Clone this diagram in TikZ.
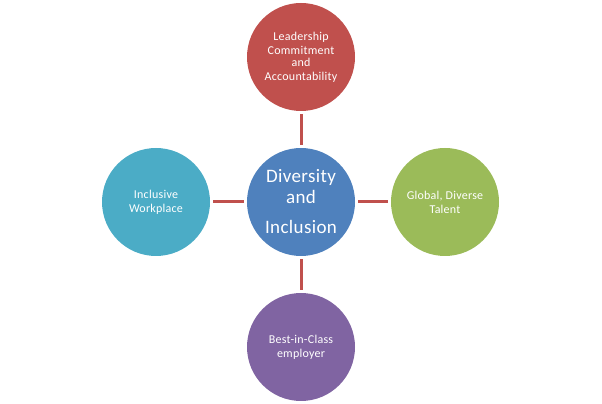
\documentclass[tikz,border=0pt]{standalone}
\usepackage{fontspec}
\setmainfont{Carlito}[LetterSpace=2]
\definecolor{cred}{HTML}{C0504D}
\definecolor{cblue}{HTML}{4F81BD}
\definecolor{cgreen}{HTML}{9BBB59}
\definecolor{cpurple}{HTML}{8064A2}
\definecolor{caqua}{HTML}{4BACC6}
\begin{document}
\begin{tikzpicture}[x=1pt,y=1pt,
  bubble/.style={circle,minimum size=108pt,inner sep=0pt,text=white,align=center,
    font=\fontsize{12}{14}\selectfont},
  link/.style={draw=cred,line width=3pt,shorten <=3pt,shorten >=3pt}]
\useasboundingbox (0,0) rectangle (602,404);
\node[bubble,fill=cblue,font=\fontsize{19}{25}\selectfont] (c) at (301,202) {Diversity\\[-4pt]and\\[5pt]Inclusion};
\node[bubble,fill=cred] (t) at (301,347) {Leadership\\Commitment\\[-2pt]and\\Accountability};
\node[bubble,fill=caqua] (l) at (156,202) {Inclusive\\Workplace};
\node[bubble,fill=cgreen] (r) at (445,202) {Global, Diverse\\Talent};
\node[bubble,fill=cpurple] (b) at (301,57) {Best-in-Class\\employer};
\draw[link] (t) -- (c);
\draw[link] (l) -- (c);
\draw[link] (r) -- (c);
\draw[link] (b) -- (c);
\end{tikzpicture}
\end{document}
